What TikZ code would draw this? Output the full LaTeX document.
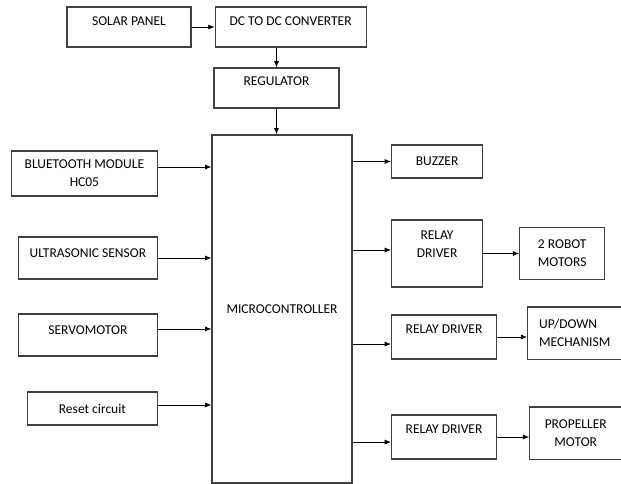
\documentclass[tikz,border=0pt]{standalone}
\usepackage{fontspec}
\setmainfont{Carlito}
\usetikzlibrary{arrows.meta, positioning}

\begin{document}
\begin{tikzpicture}[
    x=0.025cm, y=-0.025cm,
    >={Latex[length=4.5pt, width=3.6pt]},
    line width=0.6pt,
    block/.style={draw=black!75, line width=0.8pt, rectangle, inner sep=0pt, align=center,
      font=\fontsize{9.6}{12.8}\selectfont},
    lift/.style={text height=6.2pt, text depth=#1}
  ]
  \useasboundingbox (0,0) rectangle (621,484);

  % --- alimentacion ---
  \node[block, minimum width=3.1cm, minimum height=1cm, lift=8.5pt] (solar) at (129,27) {SOLAR PANEL};
  \node[block, minimum width=3.775cm, minimum height=1cm, lift=8.5pt, right=0.575cm of solar] (dcdc) {DC TO DC CONVERTER};
  \node[block, minimum width=3.125cm, minimum height=1cm, lift=10pt] (reg) at (276.5,88) {REGULATOR};

  % --- microcontrolador ---
  \node[block, minimum width=3.5cm, minimum height=8.7cm] (mcu) at (282,309) {MICROCONTROLLER};

  % --- entradas ---
  \node[block, minimum width=3.65cm, minimum height=1.125cm, anchor=east] (bt) at (158,173.5) {BLUETOOTH MODULE\\HC05};
  \node[block, minimum width=3.475cm, minimum height=1.05cm, lift=7.1pt, anchor=east] (sonar) at (158,258) {ULTRASONIC SENSOR};
  \node[block, minimum width=3.475cm, minimum height=1.05cm, lift=7.1pt, anchor=east] (servo) at (158,335) {SERVOMOTOR};
  \node[block, minimum width=3.25cm, minimum height=0.825cm, anchor=east] (reset) at (158,408.5) {Reset circuit};

  % --- salidas ---
  \node[block, minimum width=2.275cm, minimum height=0.825cm, anchor=west] (buzzer) at (391,161.5) {BUZZER};
  \node[block, minimum width=2.275cm, minimum height=1.675cm, text depth=13.5pt, anchor=west] (relay1) at (391,253.5) {RELAY\\DRIVER};
  \node[block, minimum width=2.625cm, minimum height=1.1cm, lift=11.4pt, anchor=west] (relay2) at (391,337) {RELAY DRIVER};
  \node[block, minimum width=2.625cm, minimum height=1.1cm, lift=11.4pt, anchor=west] (relay3) at (391,437) {RELAY DRIVER};
  \node[block, minimum width=2.125cm, minimum height=1.3cm, right=0.9cm of relay1] (robot) {2 ROBOT\\MOTORS};
  \node[block, minimum width=2.35cm, minimum height=1.3cm, align=left, right=0.75cm of relay2, yshift=2.8pt] (updown) {UP/DOWN\\MECHANISM};
  \node[block, minimum width=2.3cm, minimum height=1.3cm, right=0.8cm of relay3, yshift=2.8pt] (prop) {PROPELLER\\MOTOR};

  % --- puntos de conexion ---
  \coordinate (btout) at ([yshift=4.6pt]bt.east);
  \coordinate (servoout) at ([yshift=4.3pt]servo.east);
  \coordinate (resetout) at ([yshift=2.5pt]reset.east);
  \coordinate (r1in) at ([yshift=2.5pt]relay1.west);
  \coordinate (r2in) at ([yshift=-5pt]relay2.west);
  \coordinate (r3in) at ([yshift=-3.6pt]relay3.west);

  % --- conexiones ---
  \draw[->] (solar) -- (dcdc);
  \draw[->] (reg.north |- dcdc.south) -- (reg.north);
  \draw[->] (reg.south) -- (reg.south |- mcu.north);
  \draw[->] (btout) -- (btout -| mcu.west);
  \draw[->] (sonar.east) -- (sonar.east -| mcu.west);
  \draw[->] (servoout) -- (servoout -| mcu.west);
  \draw[->] (resetout) -- (resetout -| mcu.west);
  \draw[->] (buzzer.west -| mcu.east) -- (buzzer.west);
  \draw[->] (r1in -| mcu.east) -- (r1in);
  \draw[->] (r2in -| mcu.east) -- (r2in);
  \draw[->] (r3in -| mcu.east) -- (r3in);
  \draw[->] (relay1) -- (robot);
  \draw[->] (relay2.east) -- (relay2.east -| updown.west);
  \draw[->] (relay3.east) -- (relay3.east -| prop.west);
\end{tikzpicture}
\end{document}
